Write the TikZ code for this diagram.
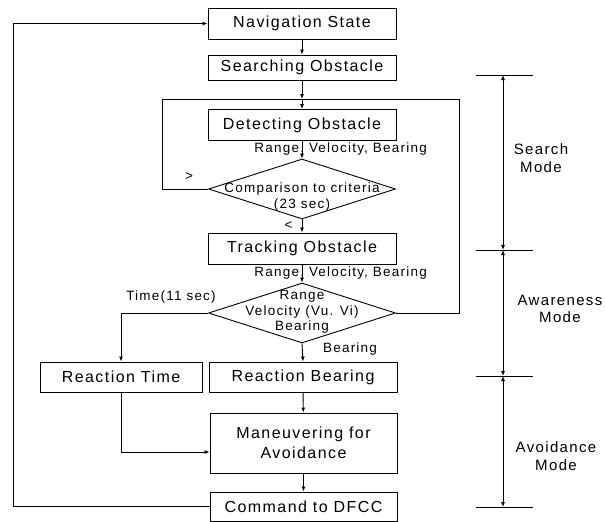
\documentclass[tikz,border=0pt]{standalone}
\usepackage{fontspec}
\setmainfont{Liberation Sans}[LetterSpace=9]
\usetikzlibrary{arrows.meta, shapes.geometric, positioning}

\begin{document}
\begin{tikzpicture}[x=1pt, y=-1pt, line width=0.9pt,
    box/.style={draw, rectangle, minimum width=188pt, minimum height=31pt, inner sep=0pt,
      font=\fontsize{16}{20}\selectfont, align=center},
    decision/.style={draw, diamond, minimum width=187pt, minimum height=60pt, inner sep=0pt},
    lbl/.style={font=\fontsize{13.5}{15.5}\selectfont, inner sep=0pt, align=center},
    modelbl/.style={font=\fontsize{15}{17.5}\selectfont, inner sep=0pt, align=center},
    arr/.style={-{Latex[length=5pt,width=4pt]}}]
  \useasboundingbox (0,0) rectangle (605,522);
  % main column
  \def\cx{302}
  \node[box] (nav) at (\cx,23.5) {Navigation State};
  \node[box, minimum height=25pt] (search) at (\cx,67.5) {Searching Obstacle};
  \node[box] (detect) at (\cx,125) {Detecting Obstacle};
  \node[decision] (cmp) at (\cx,189) {};
  \node[lbl] (cmptext) at (\cx,197) {Comparison to criteria\\(23 sec)};
  \node[box] (track) at (\cx,248.5) {Tracking Obstacle};
  \node[decision] (rvb) at (\cx,313) {};
  \node[lbl] (rvbtext) at (\cx,312) {Range\\Velocity (Vu. Vi)\\Bearing};
  \node[box, minimum width=162pt, minimum height=30pt] (rtime) at (121,377) {Reaction Time};
  \node[box, minimum height=30pt] (rbear) at (303,377) {Reaction Bearing};
  \node[box, minimum width=187pt, minimum height=60pt] (man) at (303.5,443) {Maneuvering for\\Avoidance};
  \node[box, minimum width=187pt, minimum height=29pt] (cmd) at (303.5,506.5) {Command to DFCC};
  % loop points
  \coordinate (jn) at (\cx,99);
  \coordinate (lx) at (162,0);
  \coordinate (rx) at (459,0);
  \coordinate (fb) at (13,0);
  % arrows
  \draw[arr] (nav) -- (search);
  \draw[arr] (search) -- (jn);
  \draw[arr] (jn) -- (detect);
  \draw[arr] (detect) -- (cmp.north)
    node[lbl, pos=0.45, right=-48pt] {Range, Velocity, Bearing};
  \draw[arr] (cmp.south) -- (track) node[lbl, midway, left=9pt] {<};
  \draw (cmp.west) -- (cmp.west -| lx) node[lbl, midway, above=8pt, xshift=4pt] {>}
    -- (jn -| lx) -- (jn);
  \draw[arr] (track) -- (rvb.north)
    node[lbl, pos=0.45, right=-48pt] {Range, Velocity, Bearing};
  \draw (rvb.east) -- (rvb.east -| rx) -- (jn -| rx) -- (jn);
  \draw[arr] (rvb.west) -- (rvb.west -| rtime.north) -- (rtime.north);
  \node[lbl] (timelbl) at (171,297) {Time(11 sec)};
  \node[lbl] (bearlbl) at (350,349) {Bearing};
  \draw[arr] (rvb.south) -- (rbear.north);
  \draw[arr] (rbear) -- (man);
  \draw[arr] (rtime.south) -- (rtime.south |- 0,452) -- (man.west |- 0,452);
  \draw[arr] (man) -- (cmd);
  \draw[arr] (cmd.west) -- (cmd.west -| fb) -- (nav.west -| fb) -- (nav.west);
  % mode bar
  \coordinate (m0) at (503,75);
  \coordinate (m1) at (503,250);
  \coordinate (m2) at (503,376);
  \coordinate (m3) at (503,507);
  \foreach \m in {m0,m1,m2,m3}
    \draw[line width=0.7pt] ([xshift=-27pt]\m) -- ([xshift=30pt]\m);
  \draw[{Latex[length=5pt,width=4pt]}-{Latex[length=5pt,width=4pt]}] (m0) -- (m1);
  \draw[{Latex[length=5pt,width=4pt]}-{Latex[length=5pt,width=4pt]}] (m1) -- (m2);
  \draw[{Latex[length=5pt,width=4pt]}-{Latex[length=5pt,width=4pt]}] (m2) -- (m3);
  \node[modelbl] (search mode) at (541,158) {Search\\Mode};
  \node[modelbl] (aware mode) at (560,309) {Awareness\\Mode};
  \node[modelbl] (avoid mode) at (556,456) {Avoidance\\Mode};
\end{tikzpicture}
\end{document}
